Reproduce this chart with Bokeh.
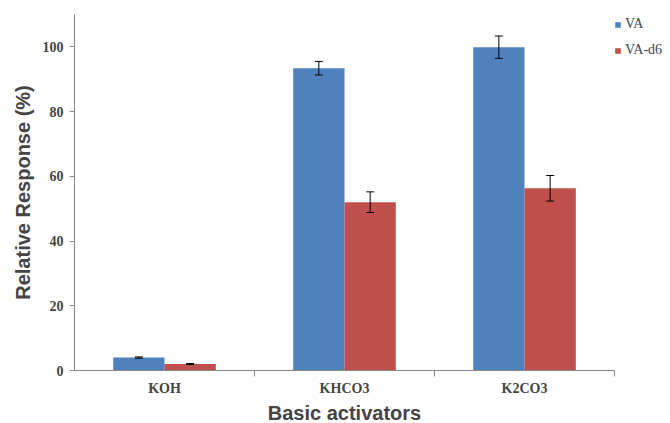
from bokeh.plotting import figure
from bokeh.models import (ColumnDataSource, Range1d, FixedTicker, Whisker, TeeHead,
                          Legend, LegendItem)
from bokeh.embed import file_html
from bokeh.resources import INLINE
import numpy as np

categories = ["KOH", "KHCO3", "K2CO3"]
va = [4.0, 93.4, 99.9]
va_err = [0.2, 2.1, 3.45]
va_d6 = [2.0, 52.0, 56.3]
va_d6_err = [0.15, 3.2, 3.95]
series_names = ["VA", "VA-d6"]

BLUE = "#4F81BD"
RED = "#C0504D"
AXIS = "#868686"
BAR_W = 0.285

idx = np.arange(len(categories)) + 0.5
src_va = ColumnDataSource(dict(x=idx - BAR_W / 2, top=va,
                               upper=np.array(va) + np.array(va_err),
                               lower=np.array(va) - np.array(va_err)))
src_d6 = ColumnDataSource(dict(x=idx + BAR_W / 2, top=va_d6,
                               upper=np.array(va_d6) + np.array(va_d6_err),
                               lower=np.array(va_d6) - np.array(va_d6_err)))

p = figure(frame_width=540, frame_height=356, output_backend="svg", toolbar_location=None,
           x_range=Range1d(0, len(categories)), y_range=Range1d(0, 110),
           min_border_left=74, min_border_right=56, min_border_top=14,
           min_border_bottom=53)
p.outline_line_color = None
p.xgrid.grid_line_color = None
p.ygrid.grid_line_color = None

r1 = p.vbar(x="x", top="top", width=BAR_W, bottom=0, source=src_va,
            fill_color=BLUE, line_color=None)
r2 = p.vbar(x="x", top="top", width=BAR_W, bottom=0, source=src_d6,
            fill_color=RED, line_color=None)

for src in (src_va, src_d6):
    w = Whisker(base="x", upper="upper", lower="lower", source=src,
                line_color="black", line_width=1, level="overlay",
                upper_head=TeeHead(size=8, line_color="black", line_width=1),
                lower_head=TeeHead(size=8, line_color="black", line_width=1))
    p.add_layout(w)

# x axis
xa = p.xaxis[0]
xa.ticker = FixedTicker(ticks=list(idx), minor_ticks=list(range(1, len(categories) + 1)))
xa.major_label_overrides = {float(v): c for v, c in zip(idx, categories)}
xa.major_tick_out = 0
xa.major_tick_in = 0
xa.minor_tick_out = 6
xa.minor_tick_in = 0
xa.minor_tick_line_color = AXIS
xa.axis_line_color = AXIS
xa.major_label_text_font = "Liberation Serif"
xa.major_label_text_font_style = "bold"
xa.major_label_text_font_size = "14px"
xa.major_label_standoff = 4
xa.axis_label = "Basic activators"
xa.axis_label_text_font = "Liberation Sans"
xa.axis_label_text_font_style = "bold"
xa.axis_label_text_font_size = "20px"
xa.axis_label_standoff = 3

# y axis
ya = p.yaxis[0]
ya.ticker = FixedTicker(ticks=[0, 20, 40, 60, 80, 100])
ya.major_tick_out = 5
ya.major_tick_in = 0
ya.minor_tick_out = 0
ya.minor_tick_in = 0
ya.major_tick_line_color = AXIS
ya.axis_line_color = AXIS
ya.major_label_text_font = "Liberation Serif"
ya.major_label_text_font_style = "bold"
ya.major_label_text_font_size = "14px"
ya.major_label_standoff = 6
ya.axis_label = "Relative Response (%)"
ya.axis_label_text_font = "Liberation Sans"
ya.axis_label_text_font_style = "bold"
ya.axis_label_text_font_size = "20px"
ya.axis_label_standoff = 6

legend = Legend(items=[LegendItem(label=series_names[0], renderers=[r1]),
                       LegendItem(label=series_names[1], renderers=[r2])],
                location="top_left", margin=0, padding=0, spacing=6,
                glyph_width=7, glyph_height=7, label_standoff=4, label_height=20,
                label_text_font="Liberation Serif", label_text_font_size="14px",
                border_line_color=None, background_fill_alpha=0)
p.add_layout(legend, "right")

open("out.html", "w").write(file_html(p, INLINE))
